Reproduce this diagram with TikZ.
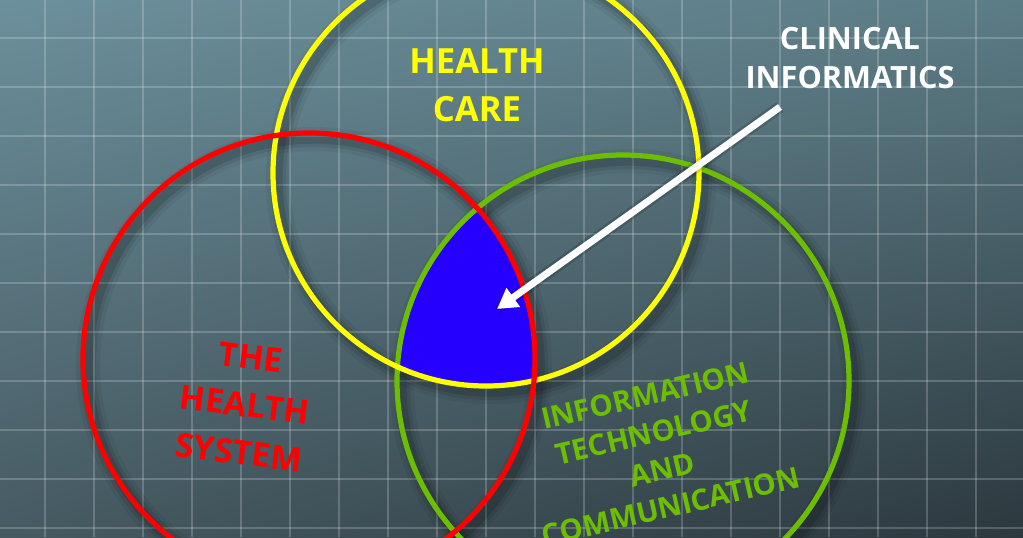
\documentclass[tikz,border=0pt]{standalone}
\usepackage{fontspec}
\setmainfont{Open Sans}
\usetikzlibrary{arrows.meta, shadings}

\definecolor{boardtl}{RGB}{108,144,156}
\definecolor{boardtr}{RGB}{92,124,134}
\definecolor{boardbl}{RGB}{70,90,98}
\definecolor{boardbr}{RGB}{44,56,62}
\definecolor{careyellow}{RGB}{255,255,0}
\definecolor{systemred}{RGB}{255,0,0}
\definecolor{techgreen}{RGB}{108,190,0}
\definecolor{overlapblue}{RGB}{38,0,255}

\tikzset{
  ring/.style={line width=3.9pt},
  gridline/.style={white, opacity=0.2, line width=1.4pt},
  title/.style={font=\bfseries, align=center, inner sep=0pt}
}

\begin{document}
\begin{tikzpicture}[x=0.75pt, y=-0.75pt]
    \useasboundingbox (0, 0) rectangle (1023, 537);
    \clip (0, 0) rectangle (1023, 537);

    % board
    \shade [upper left=boardtl, upper right=boardtr, lower left=boardbl, lower right=boardbr]
      (0, 0) rectangle (1023, 537);
    \foreach \i in {0, ..., 21} {
      \draw [gridline] (-4 + 49*\i, 0) -- (-4 + 49*\i, 537);
    }
    \foreach \j in {0, ..., 11} {
      \draw [gridline] (0, -11 + 49*\j) -- (1023, -11 + 49*\j);
    }

    % shadows of the rings
    \foreach \cx/\cy/\r in {486/173/213, 309/359/226, 623/381/226} {
      \foreach \w/\o in {18/0.05, 12/0.08, 7/0.12} {
        \draw [black, opacity=\o, line width=\w pt] (\cx + 5, \cy + 6) circle (\r);
      }
    }

    % the common part
    \begin{scope}
      \clip (486, 173) circle (213);
      \clip (309, 359) circle (226);
      \fill [overlapblue] (623, 381) circle (226);
    \end{scope}

    \draw [ring, techgreen] (623, 381) circle (226);
    \draw [ring, careyellow] (486, 173) circle (213);
    \draw [ring, systemred] (309, 359) circle (226);

    \node [title, careyellow, font=\bfseries\fontsize{26}{36}\selectfont] (care) at (477, 85) {HEALTH\\CARE};
    \node [title, white, font=\bfseries\fontsize{23}{29}\selectfont] (clinical) at (850, 58) {CLINICAL\\INFORMATICS};
    \node [title, systemred, rotate=-7, font=\bfseries\fontsize{25}{36}\selectfont] (system) at (245, 405) {THE\\HEALTH\\SYSTEM};
    \node [title, techgreen, rotate=13, font=\bfseries\fontsize{22}{28.5}\selectfont] (tech) at (658, 451) {INFORMATION\\TECHNOLOGY\\AND\\COMMUNICATION};

    \coordinate (tail) at (780, 107);
    \coordinate (overlap) at (497, 309);
    \draw [black, opacity=0.15, line width=9pt, shift={(5, 6)}] (tail) -- (overlap);
    \draw [white, line width=5.2pt, -{Triangle[length=15pt, width=16.5pt]}] (tail) -- (overlap);
  \end{tikzpicture}
\end{document}
